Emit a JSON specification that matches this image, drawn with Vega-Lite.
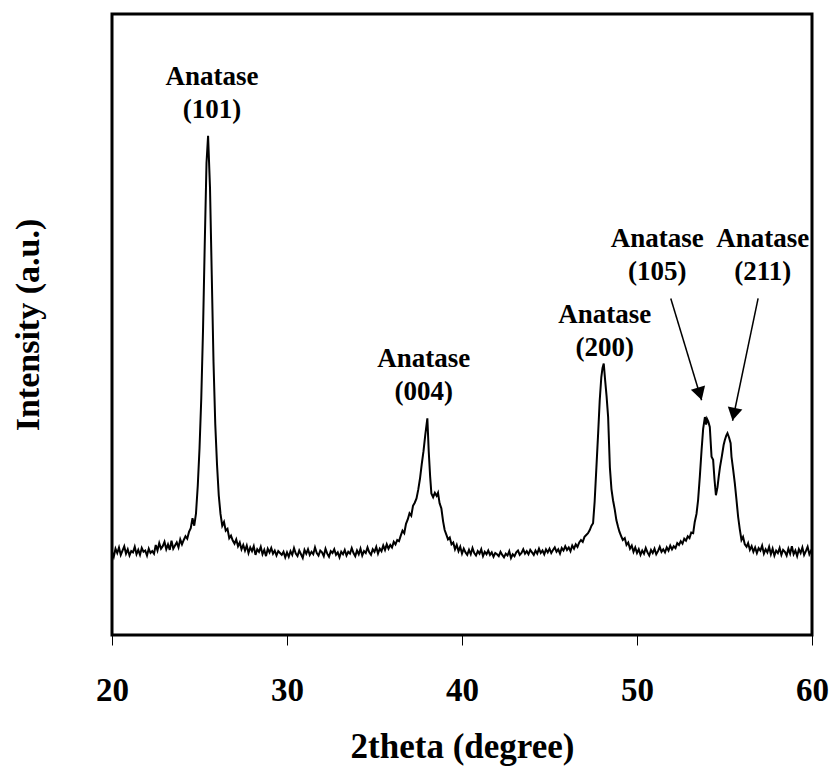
{
  "$schema": "https://vega.github.io/schema/vega-lite/v6.json",
  "width": 700,
  "height": 621,
  "autosize": "none",
  "padding": {"left": 112, "top": 14, "right": 19, "bottom": 132},
  "background": "white",
  "config": {"view": {"stroke": "black", "strokeWidth": 3}, "font": "'Liberation Serif', 'Times New Roman', Times, serif"},
  "datasets": {
    "xrd": [
      {"t":20.0,"i":13.4},{"t":20.1,"i":12.6},{"t":20.2,"i":13.9},{"t":20.3,"i":13.2},{"t":20.4,"i":14.1},{"t":20.5,"i":12.9},{"t":20.6,"i":13.6},{"t":20.7,"i":14.3},{"t":20.8,"i":13.1},{"t":20.9,"i":13.8},
      {"t":21.0,"i":12.8},{"t":21.1,"i":13.5},{"t":21.2,"i":13.3},{"t":21.3,"i":14.2},{"t":21.4,"i":13.0},{"t":21.5,"i":13.7},{"t":21.6,"i":12.9},{"t":21.7,"i":14.0},{"t":21.8,"i":13.4},{"t":21.9,"i":13.6},
      {"t":22.0,"i":12.8},{"t":22.1,"i":13.9},{"t":22.2,"i":13.2},{"t":22.3,"i":13.5},{"t":22.4,"i":13.1},{"t":22.5,"i":14.5},{"t":22.6,"i":13.6},{"t":22.7,"i":14.8},{"t":22.8,"i":13.9},{"t":22.9,"i":14.3},
      {"t":23.0,"i":15.0},{"t":23.1,"i":13.8},{"t":23.2,"i":14.6},{"t":23.3,"i":13.7},{"t":23.4,"i":15.2},{"t":23.5,"i":13.9},{"t":23.6,"i":14.4},{"t":23.7,"i":14.9},{"t":23.8,"i":14.1},{"t":23.9,"i":15.4},
      {"t":24.0,"i":14.6},{"t":24.1,"i":15.3},{"t":24.2,"i":15.9},{"t":24.3,"i":15.5},{"t":24.4,"i":16.6},{"t":24.5,"i":17.2},{"t":24.6,"i":18.8},{"t":24.7,"i":17.6},{"t":24.8,"i":19.6},{"t":24.9,"i":24},
      {"t":25.0,"i":30},{"t":25.1,"i":38},{"t":25.2,"i":49},{"t":25.3,"i":63},{"t":25.4,"i":76},{"t":25.49,"i":80.4},{"t":25.6,"i":72},{"t":25.7,"i":58},{"t":25.8,"i":44},{"t":25.9,"i":34},
      {"t":26.0,"i":27.5},{"t":26.1,"i":22.5},{"t":26.2,"i":19.5},{"t":26.3,"i":17.6},{"t":26.4,"i":18.2},{"t":26.5,"i":16.8},{"t":26.6,"i":17.1},{"t":26.7,"i":15.6},{"t":26.8,"i":16.0},{"t":26.9,"i":15.2},
      {"t":27.0,"i":14.7},{"t":27.1,"i":15.4},{"t":27.2,"i":14.3},{"t":27.3,"i":14.9},{"t":27.4,"i":13.8},{"t":27.5,"i":14.5},{"t":27.6,"i":13.6},{"t":27.7,"i":14.4},{"t":27.8,"i":13.2},{"t":27.9,"i":14.1},
      {"t":28.0,"i":13.5},{"t":28.1,"i":14.3},{"t":28.2,"i":12.9},{"t":28.3,"i":13.8},{"t":28.4,"i":13.4},{"t":28.5,"i":14.2},{"t":28.6,"i":13.0},{"t":28.7,"i":13.7},{"t":28.8,"i":12.7},{"t":28.9,"i":13.9},
      {"t":29.0,"i":13.3},{"t":29.1,"i":14.0},{"t":29.2,"i":13.1},{"t":29.3,"i":13.6},{"t":29.4,"i":12.8},{"t":29.5,"i":13.5},{"t":29.6,"i":13.2},{"t":29.7,"i":12.9},{"t":29.8,"i":13.4},{"t":29.9,"i":12.5},
      {"t":30.0,"i":13.3},{"t":30.1,"i":12.6},{"t":30.2,"i":13.5},{"t":30.3,"i":12.9},{"t":30.4,"i":14.0},{"t":30.5,"i":13.1},{"t":30.6,"i":12.7},{"t":30.7,"i":13.6},{"t":30.8,"i":13.0},{"t":30.9,"i":12.4},
      {"t":31.0,"i":13.7},{"t":31.1,"i":13.1},{"t":31.2,"i":13.8},{"t":31.3,"i":12.9},{"t":31.4,"i":13.4},{"t":31.5,"i":13.0},{"t":31.6,"i":14.1},{"t":31.7,"i":13.2},{"t":31.8,"i":12.8},{"t":31.9,"i":13.6},
      {"t":32.0,"i":13.3},{"t":32.1,"i":12.7},{"t":32.2,"i":13.9},{"t":32.3,"i":13.1},{"t":32.4,"i":12.6},{"t":32.5,"i":13.5},{"t":32.6,"i":13.2},{"t":32.7,"i":13.8},{"t":32.8,"i":12.9},{"t":32.9,"i":13.3},
      {"t":33.0,"i":12.5},{"t":33.1,"i":13.4},{"t":33.2,"i":13.0},{"t":33.3,"i":13.7},{"t":33.4,"i":12.8},{"t":33.5,"i":13.4},{"t":33.6,"i":13.1},{"t":33.7,"i":14.0},{"t":33.8,"i":13.2},{"t":33.9,"i":12.7},
      {"t":34.0,"i":13.6},{"t":34.1,"i":13.0},{"t":34.2,"i":13.9},{"t":34.3,"i":12.8},{"t":34.4,"i":13.5},{"t":34.5,"i":13.2},{"t":34.6,"i":14.1},{"t":34.7,"i":13.3},{"t":34.8,"i":12.9},{"t":34.9,"i":13.8},
      {"t":35.0,"i":13.4},{"t":35.1,"i":14.2},{"t":35.2,"i":13.1},{"t":35.3,"i":13.9},{"t":35.4,"i":13.5},{"t":35.5,"i":14.4},{"t":35.6,"i":13.7},{"t":35.7,"i":14.6},{"t":35.8,"i":13.9},{"t":35.9,"i":14.5},
      {"t":36.0,"i":14.1},{"t":36.1,"i":15.0},{"t":36.2,"i":14.6},{"t":36.3,"i":15.3},{"t":36.4,"i":15.1},{"t":36.5,"i":16.0},{"t":36.6,"i":16.8},{"t":36.7,"i":16.4},{"t":36.8,"i":17.9},{"t":36.9,"i":18.6},
      {"t":37.0,"i":19.6},{"t":37.1,"i":19.2},{"t":37.2,"i":20.8},{"t":37.3,"i":21.3},{"t":37.4,"i":22.0},{"t":37.5,"i":23.4},{"t":37.6,"i":25.2},{"t":37.7,"i":27.5},{"t":37.8,"i":29.6},{"t":37.9,"i":32.2},
      {"t":38.02,"i":34.9},{"t":38.1,"i":29.5},{"t":38.18,"i":25.5},{"t":38.25,"i":22.8},{"t":38.35,"i":22.2},{"t":38.45,"i":22.9},{"t":38.55,"i":22.4},{"t":38.63,"i":22.9},{"t":38.72,"i":21.2},{"t":38.82,"i":20.4},
      {"t":38.92,"i":18.3},{"t":39.01,"i":16.9},{"t":39.1,"i":16.2},{"t":39.2,"i":15.4},{"t":39.3,"i":15.7},{"t":39.4,"i":14.6},{"t":39.5,"i":14.9},{"t":39.6,"i":13.8},{"t":39.7,"i":14.5},{"t":39.8,"i":13.5},
      {"t":39.9,"i":14.2},{"t":40.0,"i":13.1},{"t":40.1,"i":13.9},{"t":40.2,"i":13.3},{"t":40.3,"i":12.9},{"t":40.4,"i":13.7},{"t":40.5,"i":13.0},{"t":40.6,"i":14.0},{"t":40.7,"i":13.2},{"t":40.8,"i":12.8},
      {"t":40.9,"i":13.5},{"t":41.0,"i":13.1},{"t":41.1,"i":13.8},{"t":41.2,"i":12.7},{"t":41.3,"i":13.4},{"t":41.4,"i":13.0},{"t":41.5,"i":13.6},{"t":41.6,"i":12.9},{"t":41.7,"i":13.3},{"t":41.8,"i":12.6},
      {"t":41.9,"i":13.2},{"t":42.0,"i":13.0},{"t":42.1,"i":12.7},{"t":42.2,"i":13.4},{"t":42.3,"i":12.9},{"t":42.4,"i":12.5},{"t":42.5,"i":13.1},{"t":42.6,"i":12.8},{"t":42.7,"i":13.5},{"t":42.8,"i":12.4},
      {"t":42.9,"i":13.0},{"t":43.0,"i":12.7},{"t":43.1,"i":13.3},{"t":43.2,"i":13.6},{"t":43.3,"i":12.9},{"t":43.4,"i":13.2},{"t":43.5,"i":13.8},{"t":43.6,"i":13.1},{"t":43.7,"i":13.5},{"t":43.8,"i":13.0},
      {"t":43.9,"i":13.7},{"t":44.0,"i":13.3},{"t":44.1,"i":12.9},{"t":44.2,"i":13.6},{"t":44.3,"i":13.1},{"t":44.4,"i":13.9},{"t":44.5,"i":13.2},{"t":44.6,"i":13.6},{"t":44.7,"i":13.0},{"t":44.8,"i":13.8},
      {"t":44.9,"i":13.3},{"t":45.0,"i":13.9},{"t":45.1,"i":13.2},{"t":45.2,"i":13.7},{"t":45.3,"i":14.1},{"t":45.4,"i":13.4},{"t":45.5,"i":13.8},{"t":45.6,"i":13.1},{"t":45.7,"i":14.0},{"t":45.8,"i":13.6},
      {"t":45.9,"i":14.3},{"t":46.0,"i":13.7},{"t":46.1,"i":14.1},{"t":46.2,"i":13.5},{"t":46.3,"i":14.4},{"t":46.4,"i":13.9},{"t":46.5,"i":14.6},{"t":46.6,"i":14.2},{"t":46.7,"i":14.9},{"t":46.8,"i":15.3},
      {"t":46.9,"i":15.0},{"t":47.0,"i":15.8},{"t":47.1,"i":16.1},{"t":47.2,"i":16.4},{"t":47.3,"i":16.9},{"t":47.4,"i":17.6},{"t":47.49,"i":18.0},{"t":47.58,"i":21.5},{"t":47.68,"i":27},{"t":47.78,"i":32.5},
      {"t":47.87,"i":37.8},{"t":47.96,"i":41.5},{"t":48.03,"i":43.0},{"t":48.1,"i":43.7},{"t":48.18,"i":41.0},{"t":48.26,"i":38.5},{"t":48.35,"i":35.1},{"t":48.45,"i":27},{"t":48.54,"i":23.5},{"t":48.63,"i":21.7},
      {"t":48.73,"i":20.2},{"t":48.82,"i":18.5},{"t":48.92,"i":17.4},{"t":49.0,"i":16.6},{"t":49.1,"i":15.9},{"t":49.19,"i":15.3},{"t":49.3,"i":15.6},{"t":49.4,"i":14.5},{"t":49.5,"i":14.9},{"t":49.6,"i":13.9},
      {"t":49.7,"i":14.4},{"t":49.8,"i":13.4},{"t":49.9,"i":14.1},{"t":50.0,"i":13.2},{"t":50.1,"i":13.8},{"t":50.2,"i":12.9},{"t":50.3,"i":13.6},{"t":50.4,"i":13.1},{"t":50.5,"i":14.0},{"t":50.6,"i":13.3},
      {"t":50.7,"i":12.8},{"t":50.8,"i":13.7},{"t":50.9,"i":13.2},{"t":51.0,"i":13.9},{"t":51.1,"i":13.0},{"t":51.2,"i":13.5},{"t":51.3,"i":14.2},{"t":51.4,"i":13.4},{"t":51.5,"i":13.8},{"t":51.6,"i":13.3},
      {"t":51.7,"i":14.1},{"t":51.8,"i":13.6},{"t":51.9,"i":14.4},{"t":52.0,"i":13.8},{"t":52.1,"i":14.3},{"t":52.2,"i":14.0},{"t":52.3,"i":14.8},{"t":52.4,"i":14.5},{"t":52.5,"i":15.1},{"t":52.6,"i":14.7},
      {"t":52.7,"i":15.5},{"t":52.8,"i":15.2},{"t":52.9,"i":15.9},{"t":53.0,"i":15.6},{"t":53.1,"i":16.5},{"t":53.21,"i":16.4},{"t":53.3,"i":18.2},{"t":53.4,"i":19.5},{"t":53.49,"i":21.7},{"t":53.59,"i":25.5},
      {"t":53.69,"i":29.8},{"t":53.78,"i":33.2},{"t":53.88,"i":35.1},{"t":53.95,"i":33.9},{"t":54.0,"i":34.8},{"t":54.07,"i":34.4},{"t":54.16,"i":33.5},{"t":54.26,"i":28.7},{"t":54.35,"i":28.2},{"t":54.43,"i":25.0},
      {"t":54.51,"i":22.5},{"t":54.6,"i":23.8},{"t":54.67,"i":25.5},{"t":54.74,"i":27},{"t":54.85,"i":28.8},{"t":54.95,"i":30.6},{"t":55.02,"i":31.4},{"t":55.1,"i":32.1},{"t":55.17,"i":32.5},{"t":55.26,"i":31.8},
      {"t":55.35,"i":30.9},{"t":55.4,"i":28.7},{"t":55.5,"i":26.5},{"t":55.59,"i":24.4},{"t":55.68,"i":21.9},{"t":55.78,"i":19},{"t":55.87,"i":17.1},{"t":55.97,"i":15.3},{"t":56.06,"i":15.8},{"t":56.16,"i":14.6},
      {"t":56.26,"i":14.2},{"t":56.35,"i":14.8},{"t":56.45,"i":13.7},{"t":56.55,"i":14.3},{"t":56.65,"i":13.4},{"t":56.75,"i":14.1},{"t":56.85,"i":13.2},{"t":56.95,"i":14.0},{"t":57.05,"i":13.6},{"t":57.15,"i":14.4},
      {"t":57.25,"i":13.1},{"t":57.35,"i":13.8},{"t":57.45,"i":13.3},{"t":57.55,"i":14.2},{"t":57.65,"i":13.0},{"t":57.75,"i":13.9},{"t":57.85,"i":12.8},{"t":57.95,"i":13.6},{"t":58.05,"i":13.2},{"t":58.15,"i":14.0},
      {"t":58.25,"i":12.9},{"t":58.35,"i":13.7},{"t":58.45,"i":13.4},{"t":58.55,"i":12.8},{"t":58.65,"i":13.9},{"t":58.75,"i":13.1},{"t":58.85,"i":14.3},{"t":58.95,"i":13.0},{"t":59.05,"i":13.6},{"t":59.15,"i":12.7},
      {"t":59.25,"i":13.8},{"t":59.35,"i":13.2},{"t":59.45,"i":14.1},{"t":59.55,"i":12.9},{"t":59.65,"i":13.5},{"t":59.75,"i":14.2},{"t":59.85,"i":13.0},{"t":59.95,"i":13.6},{"t":60.0,"i":13.2}
    ],
    "labels": [
      {"t":25.72,"i":88.6,"label":"Anatase\n(101)"},
      {"t":37.81,"i":43.2,"label":"Anatase\n(004)"},
      {"t":48.16,"i":50.2,"label":"Anatase\n(200)"},
      {"t":51.16,"i":62.5,"label":"Anatase\n(105)"},
      {"t":57.18,"i":62.5,"label":"Anatase\n(211)"}
    ],
    "arrows": [
      {"t":51.93,"i":54.2,"t2":53.69,"i2":37.8},
      {"t":56.92,"i":54.2,"t2":55.46,"i2":34.5}
    ],
    "heads": [
      {"t":53.59,"i":38.84,"dir":343.2},
      {"t":55.53,"i":35.54,"dir":11.8}
    ]
  },
  "layer": [
    {
      "data": {"name": "xrd"},
      "mark": {"type": "line", "color": "black", "strokeWidth": 2},
      "encoding": {
        "x": {"field": "t", "type": "quantitative", "scale": {"domain": [20, 60], "nice": false},
          "axis": {"values": [20, 30, 40, 50, 60], "title": "2theta (degree)", "domain": false, "grid": false,
            "tickSize": 10, "tickColor": "black", "tickWidth": 1, "labelFontSize": 33, "labelFontWeight": "bold",
            "labelColor": "black", "labelFont": "'Liberation Serif', 'Times New Roman', Times, serif", "labelPadding": 29, "labelFlush": false, "labelOverlap": false, "format": "d",
            "titleFontSize": 35, "titleFontWeight": "bold", "titleColor": "black", "titleFont": "'Liberation Serif', 'Times New Roman', Times, serif", "titlePadding": 22}},
        "y": {"field": "i", "type": "quantitative", "scale": {"domain": [0, 100], "nice": false},
          "axis": {"title": "Intensity (a.u.)", "labels": false, "ticks": false, "domain": false, "grid": false,
            "titleFontSize": 34, "titleFontWeight": "bold", "titleColor": "black", "titleFont": "'Liberation Serif', 'Times New Roman', Times, serif", "titlePadding": 67}}
      }
    },
    {
      "data": {"name": "labels"},
      "mark": {"type": "text", "font": "'Liberation Serif', 'Times New Roman', Times, serif", "fontSize": 27, "fontWeight": "bold", "color": "black",
        "lineBreak": "\n", "lineHeight": 33, "align": "center", "baseline": "alphabetic"},
      "encoding": {
        "x": {"field": "t", "type": "quantitative"},
        "y": {"field": "i", "type": "quantitative"},
        "text": {"field": "label"}
      }
    },
    {
      "data": {"name": "arrows"},
      "mark": {"type": "rule", "color": "black", "strokeWidth": 1.5},
      "encoding": {
        "x": {"field": "t", "type": "quantitative"},
        "y": {"field": "i", "type": "quantitative"},
        "x2": {"field": "t2"},
        "y2": {"field": "i2"}
      }
    },
    {
      "data": {"name": "heads"},
      "mark": {"type": "point", "shape": "triangle-down", "filled": true, "color": "black", "size": 220, "opacity": 1},
      "encoding": {
        "x": {"field": "t", "type": "quantitative"},
        "y": {"field": "i", "type": "quantitative"},
        "angle": {"field": "dir", "type": "quantitative", "scale": null}
      }
    }
  ]
}
